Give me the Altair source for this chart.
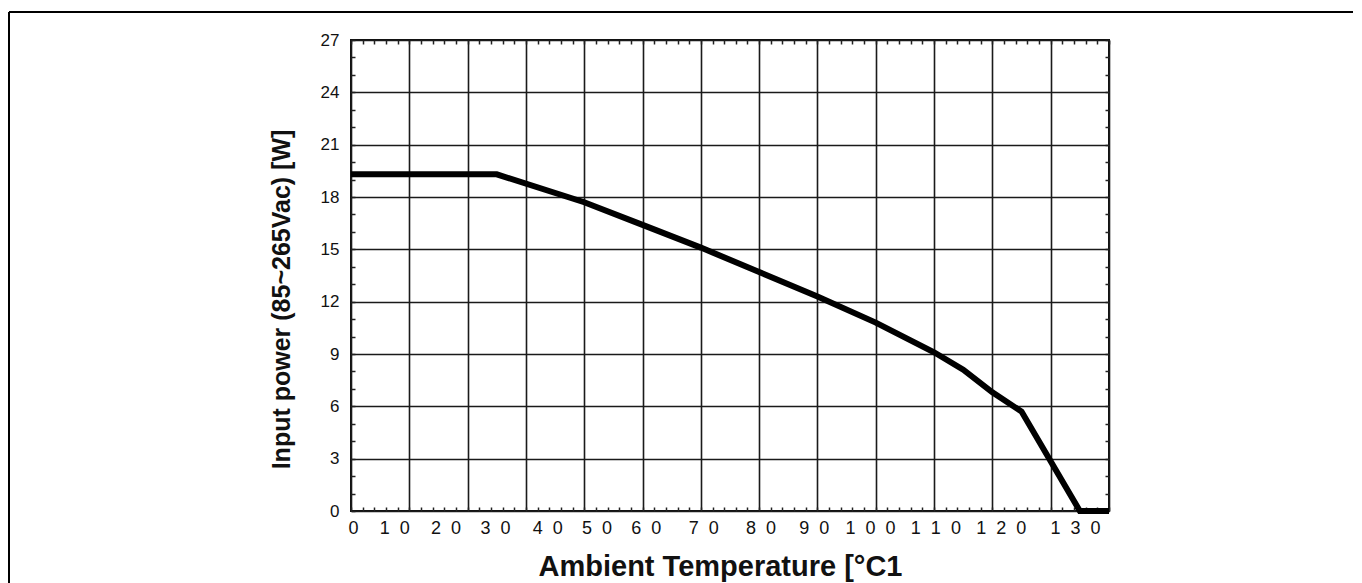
import altair as alt
import pandas as pd

# ---- data (x in grid units: one grid column = 10 °C) ----
temperature = [0, 25, 40, 50, 60, 70, 80, 90, 100, 105, 110, 115, 125, 130]
input_power = [19.3, 19.3, 17.7, 16.4, 15.1, 13.7, 12.3, 10.8, 9.1, 8.1, 6.8, 5.7, 0.0, 0.0]

x_ticks = [0, 10, 20, 30, 40, 50, 60, 70, 80, 90, 100, 110, 120, 130]
x_tick_labels = ["0", "1\u20070", "2\u20070", "3\u20070", "4\u20070", "5\u20070", "6\u20070",
                 "7\u20070", "8\u20070", "9\u20070", "1\u20070\u20070", "1\u20071\u20070",
                 "1\u20072\u20070", "1\u20073\u20070"]
y_ticks = [0, 3, 6, 9, 12, 15, 18, 21, 24, 27]

# the scanned labels sit off their grid lines by these many pixels
x_label_shift = [2, -15, -22, -31, -37, -46, -55, -56, -57, -62, -64, -57, -50, -34]

x_minor = list(range(0, 131, 2))
y_minor = list(range(0, 28, 1))

df = pd.DataFrame({"t": temperature, "p": input_power})

label_expr = "[" + ",".join("'" + s + "'" for s in x_tick_labels) + "][round(datum.value / 10)]"
offset_expr = "[" + ",".join(str(v) for v in x_label_shift) + "][round(datum.value / 10)]"

FONT = "Liberation Sans"
W, H = 758, 471
PAD_L, PAD_T, PAD_R, PAD_B = 343, 32, 244, 74

x_scale = alt.Scale(domain=[0, 130], nice=False, zero=False)
y_scale = alt.Scale(domain=[0, 27], nice=False, zero=False)

x_main_axis = alt.Axis(
    values=x_ticks, grid=True, ticks=False, tickSize=0, domain=False,
    labelExpr=label_expr, labelOffset={"expr": offset_expr},
    labelFont=FONT, labelFontSize=18, labelColor="#111", labelPadding=8,
    labelFlush=False, labelOverlap=False,
    gridColor="#1a1a1a", gridWidth=1.6, gridOpacity=1,
    title="Ambient Temperature [°C1", titleFont=FONT, titleFontSize=29,
    titleFontWeight="bold", titleColor="#111",
    titleX=369, titleY=64, titleAlign="center", titleBaseline="alphabetic",
)
y_main_axis = alt.Axis(
    values=y_ticks, grid=True, ticks=False, tickSize=0, domain=False,
    labelFont=FONT, labelFontSize=17, labelColor="#111", labelPadding=12,
    labelFlush=False, labelOverlap=False,
    gridColor="#1a1a1a", gridWidth=1.6, gridOpacity=1,
    title="Input power (85~265Vac) [W]", titleFont=FONT, titleFontSize=25,
    titleFontWeight="bold", titleColor="#111",
    titleX=-62, titleY=259, titleAngle=270, titleAlign="center",
    titleBaseline="alphabetic",
)


def minor_axis(orient, values):
    return alt.Axis(
        orient=orient, values=values, offset=-4, tickSize=4, ticks=True,
        tickColor="#222", tickWidth=1.5, labels=False, domain=False,
        grid=False, title=None,
    )


base = alt.Chart(df)

curve = base.mark_line(color="black", strokeWidth=6, strokeJoin="miter").encode(
    x=alt.X("t:Q", scale=x_scale, axis=x_main_axis),
    y=alt.Y("p:Q", scale=y_scale, axis=y_main_axis),
)

minor_bl = base.mark_line(opacity=0).encode(
    x=alt.X("t:Q", scale=x_scale, axis=minor_axis("bottom", x_minor)),
    y=alt.Y("p:Q", scale=y_scale, axis=minor_axis("left", y_minor)),
)
minor_tr = base.mark_line(opacity=0).encode(
    x=alt.X("t:Q", scale=x_scale, axis=minor_axis("top", x_minor)),
    y=alt.Y("p:Q", scale=y_scale, axis=minor_axis("right", y_minor)),
)

# page frame (top and left edges of the scanned page box)
frame_src = alt.Data(values=[{}])
frame_top = alt.Chart(frame_src).mark_rule(color="black", strokeWidth=2).encode(
    x=alt.value(-PAD_L + 1), x2=alt.value(W + PAD_R), y=alt.value(-PAD_T + 4), y2=alt.value(-PAD_T + 4)
)
frame_left = alt.Chart(frame_src).mark_rule(color="black", strokeWidth=2).encode(
    x=alt.value(-PAD_L + 1), y=alt.value(-PAD_T + 4), y2=alt.value(H + PAD_B)
)

chart = (
    alt.layer(minor_bl, minor_tr, curve, frame_top, frame_left)
    .resolve_axis(x="independent", y="independent")
    .properties(
        width=W, height=H,
        autosize=alt.AutoSizeParams(type="none"),
        padding={"left": PAD_L, "top": PAD_T, "right": PAD_R, "bottom": PAD_B},
        background="white",
    )
    .configure_view(stroke="#111", strokeWidth=2)
)

chart.save("out.html", embed_options={"renderer": "svg", "actions": False})
